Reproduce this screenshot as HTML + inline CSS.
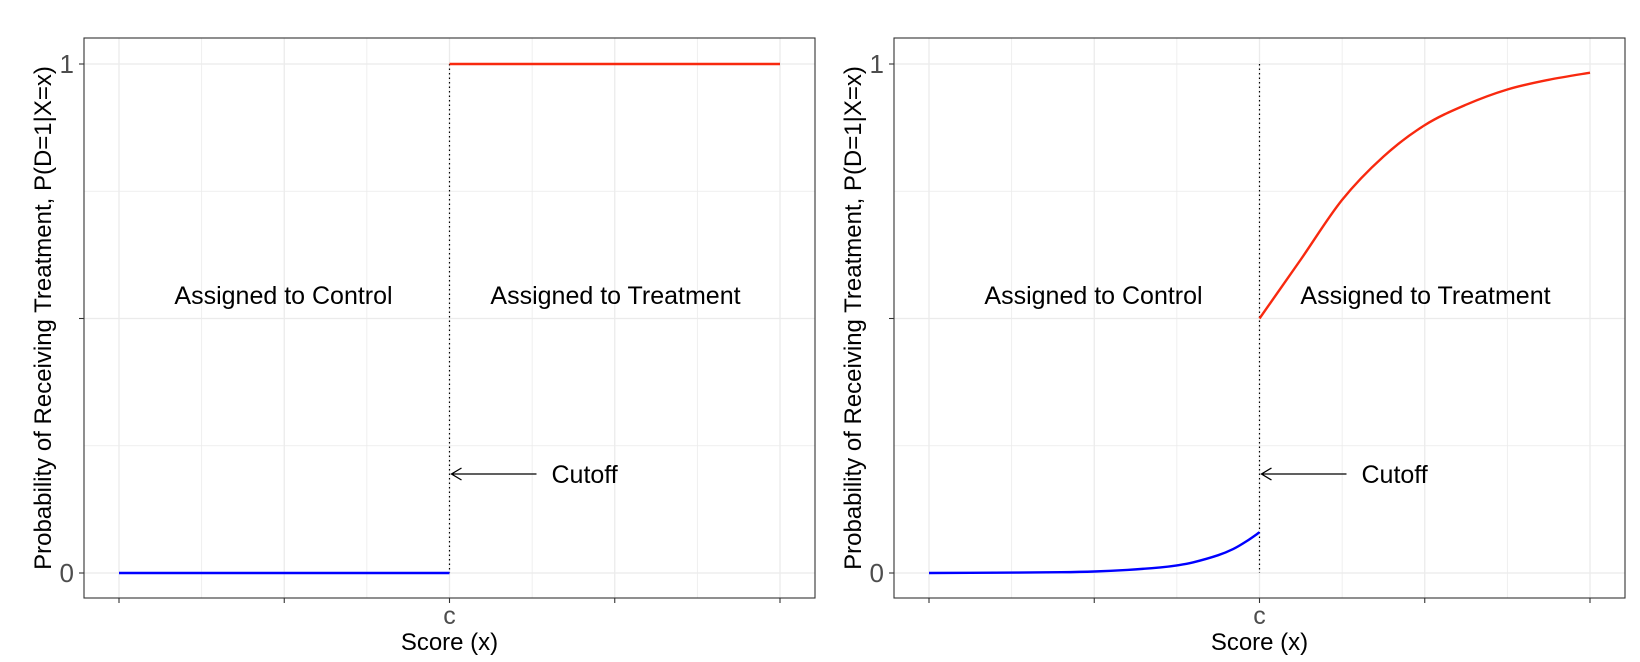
<!DOCTYPE html>
<html><head><meta charset="utf-8"><style>
body{margin:0;background:#fff;}
svg{display:block;font-family:"Liberation Sans",Arial,sans-serif;}
</style></head><body>
<svg id="chart" width="1640" height="662"></svg>
<script>
const xTicks = [0, 0.25, 0.5, 0.75, 1];
const xTickLabels = ["", "", "c", "", ""];
const yTicks = [0, 0.5, 1];
const yTickLabels = ["0", "", "1"];
const cutoff = 0.5;
const leftBlueX = [0, 0.5];
const leftBlueY = [0, 0];
const leftRedX = [0.5, 1];
const leftRedY = [1, 1];
const rightBlueX = [0, 0.1, 0.2, 0.25, 0.3, 0.35, 0.375, 0.4, 0.4375, 0.46, 0.48, 0.5];
const rightBlueY = [0, 0.0005, 0.0015, 0.003, 0.006, 0.011, 0.015, 0.021, 0.035, 0.047, 0.062, 0.08];
const rightRedX = [0.5, 0.5625, 0.625, 0.6875, 0.75, 0.8125, 0.875, 0.9375, 1];
const rightRedY = [0.5, 0.616, 0.733, 0.818, 0.88, 0.92, 0.95, 0.969, 0.983];

const svg = document.getElementById('chart');
const NS = 'http://www.w3.org/2000/svg';
function mk(tag, attrs, parent){const e=document.createElementNS(NS,tag);for(const k in attrs)e.setAttribute(k,attrs[k]);(parent||svg).appendChild(e);return e;}
function smooth(P){
  if(P.length<3) return 'M'+P.map(p=>p.join(',')).join(' L');
  let d='M'+P[0][0]+','+P[0][1];
  for(let i=0;i<P.length-1;i++){
    const p0=P[i-1]||P[i], p1=P[i], p2=P[i+1], p3=P[i+2]||p2;
    const c1=[p1[0]+(p2[0]-p0[0])/6, p1[1]+(p2[1]-p0[1])/6];
    const c2=[p2[0]-(p3[0]-p1[0])/6, p2[1]-(p3[1]-p1[1])/6];
    d+=` C${c1[0]},${c1[1]} ${c2[0]},${c2[1]} ${p2[0]},${p2[1]}`;
  }
  return d;
}

const panels = [
 {left:84, right:815, blueX:leftBlueX, blueY:leftBlueY, redX:leftRedX, redY:leftRedY, id:'left'},
 {left:894, right:1625, blueX:rightBlueX, blueY:rightBlueY, redX:rightRedX, redY:rightRedY, id:'right'}
];
const pTop=38, pBottom=598, y0=573, y1=64;
panels.forEach(p=>{
  const x0=p.left+35, xw=(p.right-35)-x0;
  const sx=v=>x0+v*xw, sy=v=>y0+(y1-y0)*v;
  const g=mk('g',{});
  
  
  for(let i=0;i<xTicks.length;i++){
    [xTicks[i], i<xTicks.length-1?(xTicks[i]+xTicks[i+1])/2:null].forEach((v,j)=>{
      if(v===null)return;
      const l=mk('line',{x1:sx(v),x2:sx(v),y1:pTop,y2:pBottom,stroke:'#ebebeb','stroke-width':j?0.8:1.3},g);
      
      
    });
  }
  [0,0.25,0.5,0.75,1].forEach((v,i)=>{
    const l=mk('line',{x1:p.left,x2:p.right,y1:sy(v),y2:sy(v),stroke:'#ebebeb','stroke-width':i%2?0.8:1.3},g);
    
    
  });
  const border=mk('rect',{x:p.left,y:pTop,width:p.right-p.left,height:pBottom-pTop,fill:'none',stroke:'#333','stroke-width':1.1},g);
  
  
  xTicks.forEach((v,i)=>{
    mk('line',{x1:sx(v),x2:sx(v),y1:pBottom,y2:pBottom+5,stroke:'#333','stroke-width':1.1},g);
    if(xTickLabels[i]){const t=mk('text',{x:sx(v),y:pBottom+26,'text-anchor':'middle','font-size':25,fill:'#4d4d4d'},g);t.textContent=xTickLabels[i];
      }
  });
  yTicks.forEach((v,i)=>{
    mk('line',{x1:p.left-5,x2:p.left,y1:sy(v),y2:sy(v),stroke:'#333','stroke-width':1.1},g);
    if(yTickLabels[i]){const t=mk('text',{x:p.left-10,y:sy(v)+9,'text-anchor':'end','font-size':26,fill:'#4d4d4d'},g);t.textContent=yTickLabels[i];
      }
  });
  const dl=mk('line',{x1:sx(cutoff),x2:sx(cutoff),y1:sy(1),y2:sy(0),stroke:'#000','stroke-width':1.2,'stroke-dasharray':'1.5,3'},g);
  
  const pts=(xs,ys)=>xs.map((x,i)=>[+sx(x).toFixed(1),+sy(ys[i]).toFixed(1)]);
  const b=mk('path',{d:smooth(pts(p.blueX,p.blueY)),fill:'none',stroke:'#0000ff','stroke-width':2.4},g);
  
  const r=mk('path',{d:smooth(pts(p.redX,p.redY)),fill:'none',stroke:'#f8290f','stroke-width':2.4},g);
  
  const cx=sx(cutoff);
  const t1=mk('text',{x:cx-166,y:304,'text-anchor':'middle','font-size':25,fill:'#000'},g);t1.textContent='Assigned to Control';
  
  const t2=mk('text',{x:cx+166,y:304,'text-anchor':'middle','font-size':25,fill:'#000'},g);t2.textContent='Assigned to Treatment';
  
  const ay=474;
  const ar=mk('path',{d:`M${cx+2},${ay} H${cx+87} M${cx+12},${ay-6} L${cx+2},${ay} L${cx+12},${ay+6}`,fill:'none',stroke:'#000','stroke-width':1.3},g);
  
  const ct=mk('text',{x:cx+102,y:483,'font-size':25,fill:'#000'},g);ct.textContent='Cutoff';
  
  const xt=mk('text',{x:(p.left+p.right)/2,y:650,'text-anchor':'middle','font-size':24,fill:'#000'},g);xt.textContent='Score (x)';
  
  const yx=p.left-33, yy=(pTop+pBottom)/2;
  const yt=mk('text',{x:yx,y:yy,'text-anchor':'middle','font-size':24,fill:'#000',transform:`rotate(-90 ${yx} ${yy})`},g);yt.textContent='Probability of Receiving Treatment, P(D=1|X=x)';
  
});
</script>
</body></html>
